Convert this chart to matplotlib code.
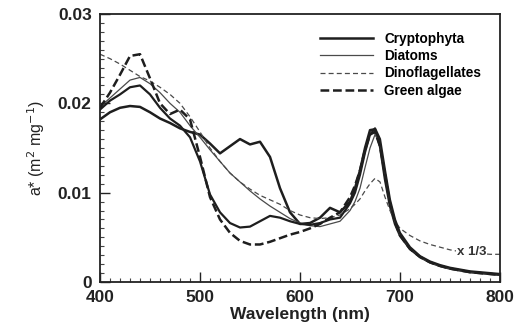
import numpy as np
import matplotlib
matplotlib.use("Agg")
import matplotlib.pyplot as plt
from matplotlib.ticker import MultipleLocator

wl = [400, 410, 420, 430, 440, 450, 460, 470, 480, 490, 500, 510, 520, 530, 540,
      550, 560, 570, 580, 590, 600, 610, 620, 630, 640, 650, 655, 660, 665, 670,
      675, 680, 685, 690, 695, 700, 710, 720, 730, 740, 750, 760, 770, 780, 790, 800]

cryptophyta = [0.0182, 0.0190, 0.0195, 0.0197, 0.0196, 0.0190, 0.0183, 0.0178, 0.0172, 0.0168,
               0.0165, 0.0155, 0.0144, 0.0152, 0.0160, 0.0154, 0.0157, 0.0140, 0.0105, 0.0078,
               0.0065, 0.0066, 0.0072, 0.0083, 0.0078, 0.0090, 0.0105, 0.0125, 0.0150, 0.0170,
               0.0171, 0.0152, 0.0115, 0.0085, 0.0065, 0.0052, 0.0037, 0.0028, 0.0022, 0.0018,
               0.0015, 0.0013, 0.0011, 0.0010, 0.0009, 0.0008]

other_solid = [0.0193, 0.0203, 0.0210, 0.0218, 0.0220, 0.0210, 0.0195, 0.0183, 0.0175, 0.0162,
               0.0135, 0.0098, 0.0078, 0.0066, 0.0061, 0.0062, 0.0068, 0.0074, 0.0072, 0.0068,
               0.0065, 0.0064, 0.0066, 0.0070, 0.0072, 0.0088, 0.0100, 0.0120, 0.0145, 0.0165,
               0.0172, 0.0160, 0.0125, 0.0092, 0.0070, 0.0055, 0.0039, 0.0029, 0.0023, 0.0019,
               0.0016, 0.0014, 0.0012, 0.0011, 0.0010, 0.0009]

diatoms = [0.0196, 0.0206, 0.0216, 0.0226, 0.0229, 0.0222, 0.0212, 0.0200, 0.0190, 0.0175,
           0.0162, 0.0148, 0.0135, 0.0122, 0.0112, 0.0102, 0.0093, 0.0085, 0.0078, 0.0071,
           0.0066, 0.0063, 0.0062, 0.0065, 0.0068, 0.0080, 0.0090, 0.0105, 0.0128, 0.0150,
           0.0165, 0.0155, 0.0122, 0.0090, 0.0068, 0.0053, 0.0038, 0.0028, 0.0022, 0.0018,
           0.0015, 0.0013, 0.0011, 0.0010, 0.0009, 0.0008]

dinoflagellates = [0.0255, 0.0250, 0.0244, 0.0237, 0.0230, 0.0225, 0.0218, 0.0210, 0.0200, 0.0185,
                   0.0168, 0.0150, 0.0135, 0.0122, 0.0112, 0.0104, 0.0097, 0.0092, 0.0087, 0.0080,
                   0.0075, 0.0072, 0.0071, 0.0072, 0.0075, 0.0082, 0.0087, 0.0093, 0.0102, 0.0110,
                   0.0116, 0.0112, 0.0095, 0.0080, 0.0068, 0.0060, 0.0052, 0.0046, 0.0042, 0.0039,
                   0.0036, 0.0034, 0.0033, 0.0032, 0.0031, 0.0031]

green_algae = [0.0195, 0.0212, 0.0232, 0.0253, 0.0255, 0.0228, 0.0200, 0.0188, 0.0193, 0.0182,
               0.0140, 0.0095, 0.0070, 0.0055, 0.0046, 0.0042, 0.0042, 0.0045, 0.0049, 0.0053,
               0.0056, 0.0060, 0.0065, 0.0072, 0.0078, 0.0095, 0.0108, 0.0125, 0.0148, 0.0165,
               0.0168, 0.0152, 0.0120, 0.0088, 0.0067, 0.0052, 0.0037, 0.0028, 0.0022, 0.0018,
               0.0015, 0.0013, 0.0011, 0.0010, 0.0009, 0.0008]

x_ticks = [400, 500, 600, 700, 800]
y_ticks = [0, 0.01, 0.02, 0.03]
y_tick_labels = ["0", "0.01", "0.02", "0.03"]

plt.rcParams['font.family'] = ['Liberation Sans', 'DejaVu Sans']

fig = plt.figure(figsize=(5.19, 3.30), dpi=100)
ax = fig.add_axes([100/519, 48/330, 400/519, 268/330])

c = '#1e1e1e'
ax.plot(wl, cryptophyta, color=c, lw=1.8, label='Cryptophyta')
ax.plot(wl, diatoms, color='#4a4a4a', lw=0.9, label='Diatoms')
ax.plot(wl, dinoflagellates, color='#4a4a4a', lw=0.9, ls=(0, (4, 2.5)), label='Dinoflagellates')
ax.plot(wl, green_algae, color=c, lw=1.8, ls=(0, (3.5, 1.5)), label='Green algae')
ax.plot(wl, other_solid, color=c, lw=1.6)

ax.text(757, 0.0034, 'x 1/3', fontsize=9.5, fontweight='bold', color='#333333',
        va='center', ha='left',
        bbox=dict(facecolor='white', edgecolor='none', pad=0.5))

ax.set_xlim(400, 800)
ax.set_ylim(0, 0.03)
ax.set_xticks(x_ticks)
ax.set_yticks(y_ticks)
ax.set_yticklabels(y_tick_labels)
ax.xaxis.set_minor_locator(MultipleLocator(10))
ax.yaxis.set_minor_locator(MultipleLocator(0.001))
ax.tick_params(which='major', direction='in', length=7, width=1, labelsize=12.5, pad=6, colors='#222222')
ax.tick_params(which='minor', direction='in', length=3, width=0.8, colors='#444444')
for lab in ax.get_xticklabels() + ax.get_yticklabels():
    lab.set_fontweight('bold')
for s in ax.spines.values():
    s.set_linewidth(1.3)
    s.set_color('#222222')

ax.set_xlabel('Wavelength (nm)', fontsize=12.5, fontweight='bold', labelpad=1, color='#222222')
ax.set_ylabel(r'a* (m$^2$ mg$^{-1}$)', fontsize=11.5, color='#222222', labelpad=8)

leg = ax.legend(loc='upper left', bbox_to_anchor=(0.52, 0.98), frameon=False,
                handlelength=3.9, handletextpad=0.8, labelspacing=0.25,
                prop={'weight': 'bold', 'size': 9.8})

fig.savefig('out.png', dpi=100)
